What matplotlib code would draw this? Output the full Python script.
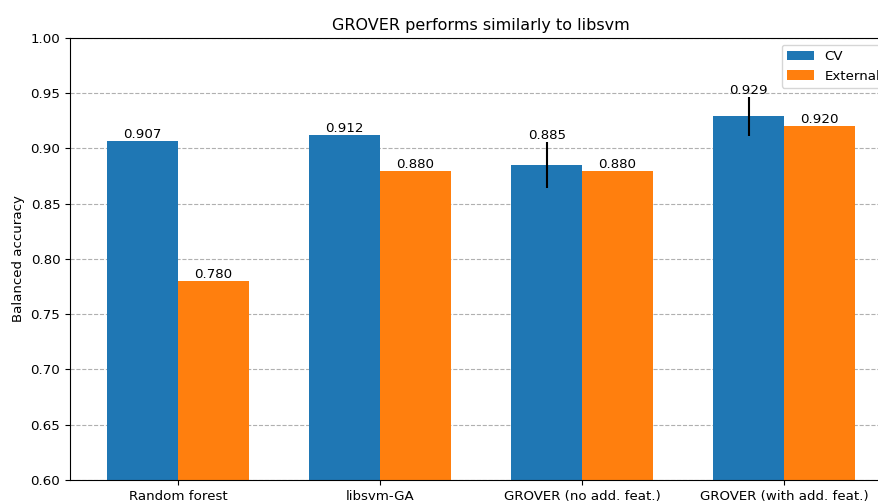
import numpy as np
import matplotlib.pyplot as plt

plt.rcParams["font.size"] = 9.6

models = ["Random forest", "libsvm-GA", "GROVER (no add. feat.)", "GROVER (with add. feat.)"]
cv_scores = [0.907, 0.912, 0.885, 0.929]
cv_err = [0.0, 0.0, 0.021, 0.018]
external_scores = [0.780, 0.880, 0.880, 0.920]

x = np.arange(len(models))
width = 0.35

fig = plt.figure(figsize=(8.79, 5.01), dpi=100)
# the axes run past the right edge of the figure, as in the reference
ax = fig.add_axes([70 / 879, 21 / 501, 822 / 879, 442 / 501])

b1 = ax.bar(x - width / 2, cv_scores, width, yerr=cv_err, label="CV",
            color="#1f77b4", error_kw=dict(ecolor="black", elinewidth=1.5))
b2 = ax.bar(x + width / 2, external_scores, width, label="External", color="#ff7f0e")

ax.bar_label(b1, fmt="%.3f")
ax.bar_label(b2, fmt="%.3f")

ax.set_ylim(0.6, 1.0)
ax.set_xticks(x)
ax.set_xticklabels(models)
ax.set_ylabel("Balanced accuracy")
ax.set_title("GROVER performs similarly to libsvm", fontsize=11.5)
ax.yaxis.grid(True, linestyle="--", color="#b0b0b0")
ax.set_axisbelow(True)
ax.legend(loc="upper right")

fig.savefig("out.png", dpi=100)
